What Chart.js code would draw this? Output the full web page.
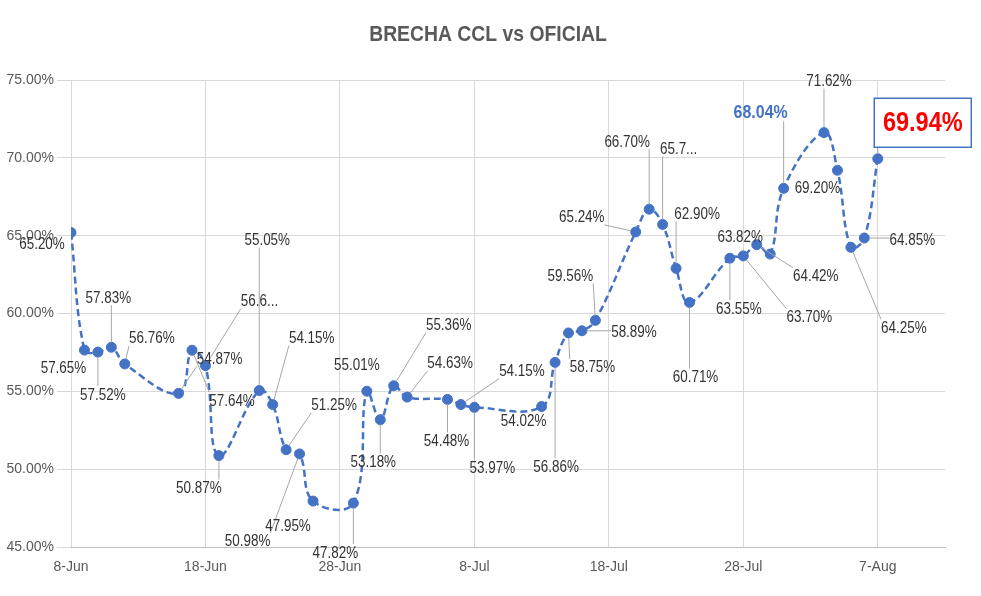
<!DOCTYPE html>
<html>
<head>
<meta charset="utf-8">
<script src="https://cdn.jsdelivr.net/npm/chart.js@4.4.1/dist/chart.umd.min.js"></script>
<style>
  html, body { margin: 0; padding: 0; background: #fff; }
  #wrap { width: 981px; height: 596px; position: relative; }
</style>
</head>
<body>
<div id="wrap"><canvas id="chart"></canvas></div>
<script>
// fechas (dias habiles) y brecha CCL vs oficial
const dates = [
  '2020-06-08', '2020-06-09', '2020-06-10', '2020-06-11', '2020-06-12',
  '2020-06-16', '2020-06-17', '2020-06-18', '2020-06-19',
  '2020-06-22', '2020-06-23', '2020-06-24', '2020-06-25', '2020-06-26',
  '2020-06-29', '2020-06-30', '2020-07-01', '2020-07-02', '2020-07-03',
  '2020-07-06', '2020-07-07', '2020-07-08',
  '2020-07-13', '2020-07-14', '2020-07-15', '2020-07-16', '2020-07-17',
  '2020-07-20', '2020-07-21', '2020-07-22', '2020-07-23', '2020-07-24',
  '2020-07-27', '2020-07-28', '2020-07-29', '2020-07-30', '2020-07-31',
  '2020-08-03', '2020-08-04', '2020-08-05', '2020-08-06', '2020-08-07'
];
const brecha = [
  65.20, 57.65, 57.52, 57.83, 56.76,
  54.87, 57.64, 56.65, 50.87,
  55.05, 54.15, 51.25, 50.98, 47.95,
  47.82, 55.01, 53.18, 55.36, 54.63,
  54.48, 54.15, 53.97,
  54.02, 56.86, 58.75, 58.89, 59.56,
  65.24, 66.70, 65.72, 62.90, 60.71,
  63.55, 63.70, 64.42, 63.82, 68.04,
  71.62, 69.20, 64.25, 64.85, 69.94
];
const xTickLabels = ['8-Jun', '18-Jun', '28-Jun', '8-Jul', '18-Jul', '28-Jul', '7-Aug'];
const truncatedLabels = [7, 29];   // Excel los corta con "..."
const blueLabel = 36;
const redLabel = 41;

// posicion de cada etiqueta respecto de su punto (px)
const labelOffsets = [
  [-29, 11], [-21, 18], [5, 42], [-3, -50], [27, -26],
  [41, -35], [40, 50], [54, -65], [-20, 32],
  [8, -151], [39, -67], [48, -45], [-52, 87], [-25, 25],
  [-18, 49], [-10, -27], [-7, 42], [55, -61], [43, -34],
  [-1, 41], [61, -34], [18, 60],
  [-18, 14], [1, 104], [24, 34], [52, 1], [-25, -45],
  [-54, -15], [-22, -68], [16, -76], [21, -55], [6, 74],
  [9, 50], [66, 61], [59, 31], [-30, -17], [-23, -77],
  [5, -52], [-20, 17], [53, 80], [48, 2], [45, -36]
];

const DAY = 86400000;
const t0 = Date.parse(dates[0]);
const points = dates.map((d, i) => ({ x: (Date.parse(d) - t0) / DAY, y: brecha[i] }));

const FONT = "'Liberation Sans', Arial, sans-serif";
const GRAY = '#595959';
const BLUE = '#4472C4';
const NARROW = 0.84; // simula la fuente condensada de Excel

function labelText(i) {
  const s = brecha[i].toFixed(2) + '%';
  return truncatedLabels.includes(i) ? s.slice(0, 4) + '...' : s;
}

function narrowText(ctx, text, x, y, sx) {
  ctx.save();
  ctx.translate(x, y);
  ctx.scale(sx, 1);
  ctx.fillText(text, 0, 0);
  ctx.restore();
}

const titlePlugin = {
  id: 'titulo',
  afterDraw(chart) {
    const ctx = chart.ctx;
    ctx.save();
    ctx.font = 'bold 22px ' + FONT;
    ctx.fillStyle = GRAY;
    ctx.textAlign = 'center';
    ctx.textBaseline = 'middle';
    narrowText(ctx, 'BRECHA CCL vs OFICIAL', 488, 35, 0.88);
    ctx.restore();
  }
};

const labelsPlugin = {
  id: 'etiquetas',
  afterDatasetsDraw(chart) {
    const ctx = chart.ctx;
    const meta = chart.getDatasetMeta(0);
    const boxes = [];
    ctx.save();
    meta.data.forEach((pt, i) => {
      let font = '16px ' + FONT, color = '#333333', h = 16;
      if (i === blueLabel) { font = 'bold 19px ' + FONT; color = BLUE; h = 20; }
      if (i === redLabel) { font = 'bold 28px ' + FONT; color = '#FF0000'; h = 49; }
      ctx.font = font;
      let w = ctx.measureText(labelText(i)).width * NARROW;
      if (i === redLabel) w = 97;
      const cx = pt.x + labelOffsets[i][0];
      const cy = pt.y + labelOffsets[i][1];
      boxes.push({ pt, cx, cy, w, h, font, color, i });
    });
    // lineas guia
    ctx.strokeStyle = '#A6A6A6';
    ctx.lineWidth = 1;
    boxes.forEach(b => {
      const dx = b.cx - b.pt.x, dy = b.cy - b.pt.y;
      if (Math.hypot(dx, dy) < 36) return;
      const ex = Math.min(Math.max(b.pt.x, b.cx - b.w / 2), b.cx + b.w / 2);
      const ey = Math.min(Math.max(b.pt.y, b.cy - b.h / 2), b.cy + b.h / 2);
      const len = Math.hypot(ex - b.pt.x, ey - b.pt.y);
      if (len < 8) return;
      const sx = b.pt.x + (ex - b.pt.x) / len * 5;
      const sy = b.pt.y + (ey - b.pt.y) / len * 5;
      ctx.beginPath();
      ctx.moveTo(sx, sy);
      ctx.lineTo(ex, ey);
      ctx.stroke();
    });
    // textos
    ctx.textAlign = 'center';
    ctx.textBaseline = 'middle';
    boxes.forEach(b => {
      if (b.i === redLabel) {
        ctx.fillStyle = '#fff';
        ctx.fillRect(b.cx - b.w / 2, b.cy - b.h / 2, b.w, b.h);
        ctx.strokeStyle = BLUE;
        ctx.lineWidth = 1.5;
        ctx.strokeRect(b.cx - b.w / 2, b.cy - b.h / 2, b.w, b.h);
      }
      ctx.font = b.font;
      ctx.fillStyle = b.color;
      narrowText(ctx, labelText(b.i), b.cx, b.cy + 1, NARROW);
    });
    ctx.restore();
  }
};

new Chart(document.getElementById('chart'), {
  type: 'line',
  data: {
    datasets: [{
      label: 'Brecha CCL vs Oficial',
      data: points,
      borderColor: BLUE,
      backgroundColor: BLUE,
      borderWidth: 2.5,
      borderDash: [7, 4],
      tension: 0.4,
      pointRadius: 5,
      pointBackgroundColor: BLUE,
      pointBorderColor: BLUE,
      pointBorderWidth: 1
    }]
  },
  options: {
    responsive: true,
    maintainAspectRatio: false,
    animation: false,
    layout: { padding: { left: 0, right: 36, top: 80, bottom: 0 } },
    plugins: {
      legend: { display: false },
      tooltip: { enabled: false },
      title: { display: false }
    },
    scales: {
      x: {
        type: 'linear',
        min: 0,
        max: 65,
        afterFit(scale) { scale.height = 49; },
        ticks: {
          stepSize: 10,
          includeBounds: false,
          padding: 12,
          color: GRAY,
          font: { family: FONT, size: 14 },
          maxRotation: 0,
          callback: v => xTickLabels[Math.round(v / 10)] || ''
        },
        grid: { color: '#D9D9D9', drawTicks: false },
        border: { display: true, color: '#BFBFBF' }
      },
      y: {
        min: 45,
        max: 75,
        afterFit(scale) { scale.width = 71; },
        ticks: {
          stepSize: 5,
          padding: 3,
          color: GRAY,
          font: { family: FONT, size: 14 },
          callback: v => v.toFixed(2) + '%'
        },
        grid: { color: '#D9D9D9', tickLength: 14 },
        border: { display: false }
      }
    }
  },
  plugins: [titlePlugin, labelsPlugin]
});
</script>
</body>
</html>
